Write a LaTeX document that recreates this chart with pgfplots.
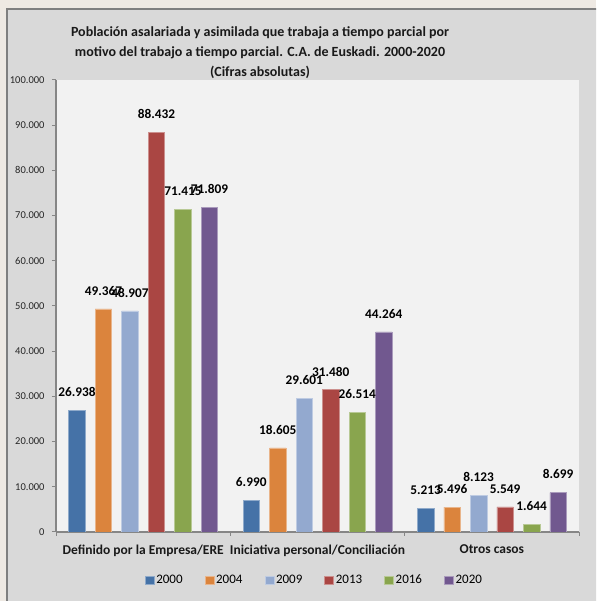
\documentclass[border=0pt]{standalone}
\usepackage{pgfplots}
\pgfplotsset{compat=1.18}
\usepackage{fontspec}
\setmainfont{Carlito}

\definecolor{beige}{HTML}{EEE9E3}
\definecolor{chartgray}{HTML}{D9D9D9}
\definecolor{plotgray}{HTML}{F2F2F2}
\definecolor{framegray}{HTML}{7F7F7F}
\definecolor{axgray}{HTML}{868686}
\definecolor{cA}{HTML}{4572A7}
\definecolor{cB}{HTML}{DB843D}
\definecolor{cC}{HTML}{93A9CF}
\definecolor{cD}{HTML}{AA4643}
\definecolor{cE}{HTML}{89A54E}
\definecolor{cF}{HTML}{71588F}

\begin{document}
\begin{tikzpicture}[x=1pt,y=1pt]
\fill[beige] (0,0) rectangle (596,601);
\begin{scope}
  \clip (0,0) rectangle (596,601);
  \draw[framegray, line width=2pt, fill=chartgray] (7,-10) rectangle (610,592);
\end{scope}
\path[use as bounding box] (0,0) rectangle (596,601);

% title
\node[align=center, font=\fontsize{14}{20}\selectfont\bfseries, text=black!90]
  at (260,548) {Población asalariada y asimilada que trabaja a tiempo parcial por\\
  motivo del trabajo a tiempo parcial. C.A. de Euskadi. 2000-2020\\(Cifras absolutas)};

\begin{axis}[
  at={(56pt,69pt)}, anchor=south west,
  scale only axis, width=523pt, height=452pt,
  ybar=10pt, bar width=16.5pt,
  xmin=-0.5, xmax=2.5, ymin=0, ymax=100000,
  axis background/.style={fill=plotgray},
  axis x line*=bottom, axis y line*=left,
  axis line style={-, axgray, line width=1.3pt},
  tick align=outside, major tick length=4pt,
  tick style={axgray, line width=1pt},
  xtick={-0.5,0.5,1.5,2.5}, xticklabels={},
  extra x ticks={0,1,2},
  extra x tick labels={Definido por la Empresa/ERE, Iniciativa personal/Conciliación, Otros casos},
  extra x tick style={major tick length=0pt,
    tick label style={font=\fontsize{13.5}{15}\selectfont\bfseries, text=black!90, yshift=-9pt}},
  ytick={0,10000,...,100000},
  scaled y ticks=false,
  yticklabel style={font=\fontsize{10.5}{13}\selectfont, text=black!85, xshift=-4pt},
  /pgf/number format/.cd, fixed, precision=0, 1000 sep={.}, assume math mode=true,
  /pgfplots/.cd,
  nodes near coords={\pgfmathprintnumber[fixed,precision=0,1000 sep={.}]{\pgfplotspointmeta}},
  nodes near coords style={font=\fontsize{13.3}{15}\selectfont\bfseries, text=black, anchor=south, yshift=10pt},
  legend columns=6,
  legend style={at={(0.494,-0.106)}, anchor=center, draw=none, fill=none,
    font=\fontsize{13}{15}\selectfont,
    /tikz/every even column/.append style={column sep=20pt}},
  legend image code/.code={\fill[#1] (0pt,-4pt) rectangle (9pt,4pt);},
]
\addplot[fill=cA, draw=cA!60!white, line width=0.5pt] coordinates {(0,26938) (1,6990) (2,5213)};
\addplot[fill=cB, draw=cB!60!white, line width=0.5pt] coordinates {(0,49367) (1,18605) (2,5496)};
\addplot[fill=cC, draw=cC!60!white, line width=0.5pt] coordinates {(0,48907) (1,29601) (2,8123)};
\addplot[fill=cD, draw=cD!60!white, line width=0.5pt] coordinates {(0,88432) (1,31480) (2,5549)};
\addplot[fill=cE, draw=cE!60!white, line width=0.5pt] coordinates {(0,71415) (1,26514) (2,1644)};
\addplot[fill=cF, draw=cF!60!white, line width=0.5pt] coordinates {(0,71809) (1,44264) (2,8699)};
\legend{2000,2004,2009,2013,2016,2020}
\end{axis}
\end{tikzpicture}
\end{document}
